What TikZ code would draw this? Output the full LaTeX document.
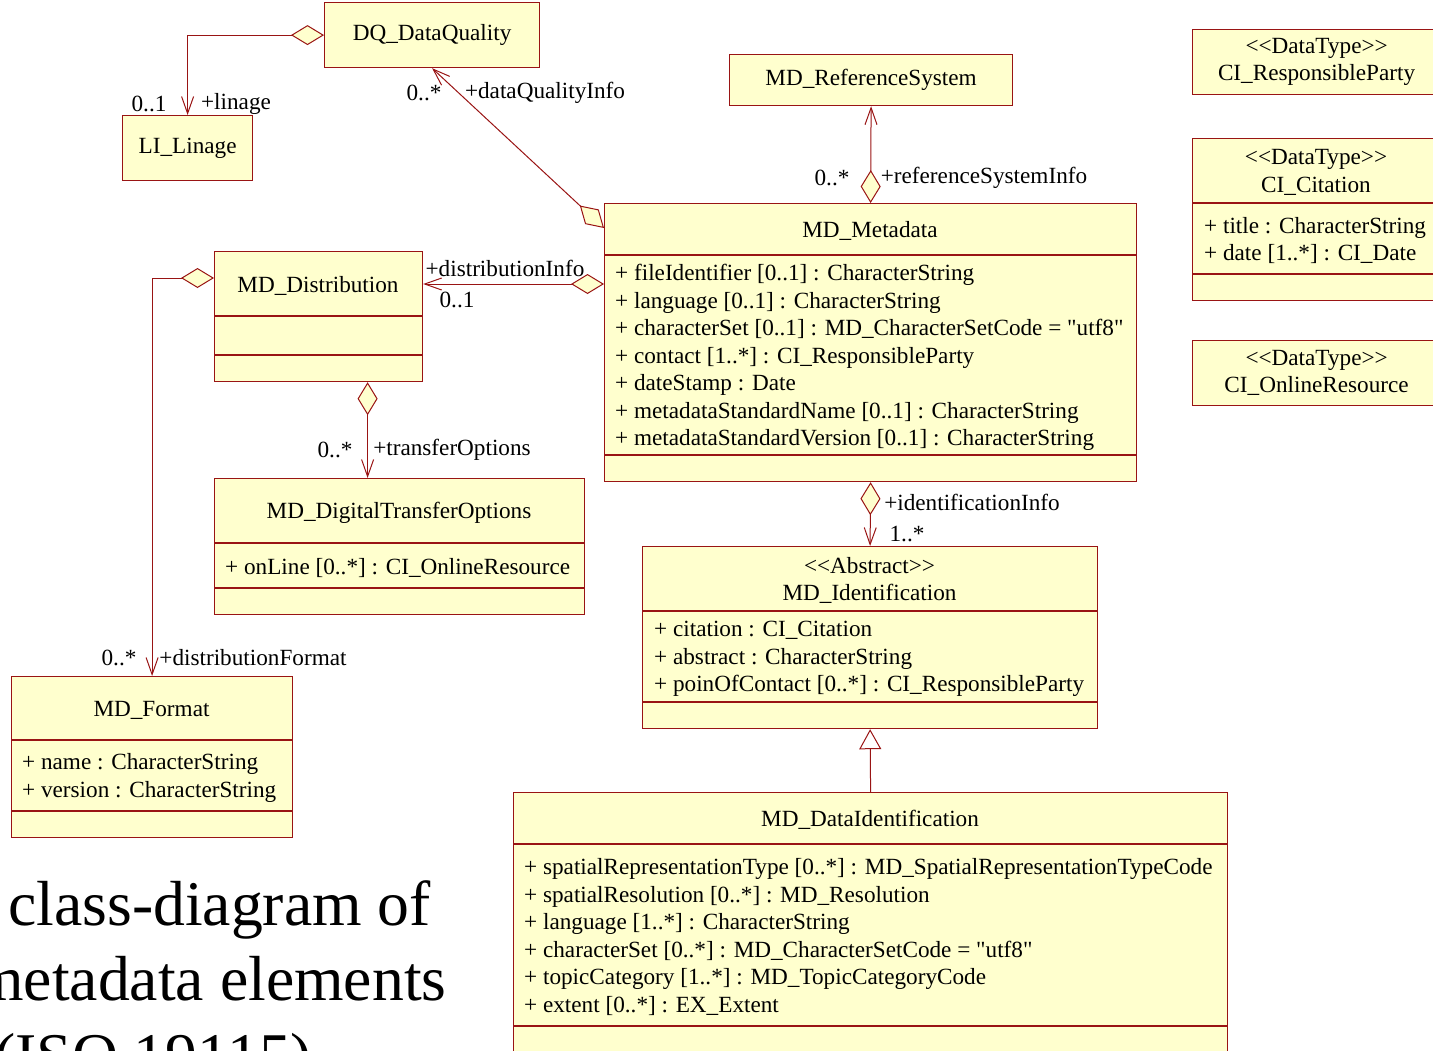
\documentclass[tikz,border=0pt]{standalone}
\usepackage{fontspec}
\setmainfont{Liberation Serif}[Ligatures=TeXOff]
\usetikzlibrary{arrows.meta,positioning}

\definecolor{umlline}{RGB}{153,20,20}
\definecolor{umlfill}{RGB}{255,255,206}

\tikzset{
  cls/.style={draw=umlline, fill=umlfill, line width=1.2pt, inner sep=0pt, anchor=north west, align=center},
  sep/.style={draw=umlline, line width=1.2pt},
  title/.style={align=center, inner sep=0pt, yshift=-2pt},
  attrs/.style={align=left, anchor=west, inner sep=0pt, yshift=-2pt},
  role/.style={inner sep=0pt, yshift=-2pt},
  assoc/.style={draw=umlline, line width=1pt,
    {Diamond[length=33pt,width=20pt,fill=umlfill,line width=1pt]}-{Straight Barb[length=17pt,width=12pt,line width=1pt]}},
  inherit/.style={draw=umlline, line width=1pt, -{Triangle[open,length=20pt,width=22pt,line width=1pt]}},
  caption/.style={anchor=base west, inner sep=0pt, font=\fontsize{63.7}{76}\selectfont}
}

\begin{document}
\begin{tikzpicture}[x=1pt, y=-1pt, font=\fontsize{23.2}{27.5}\selectfont]
  \useasboundingbox (0,0) rectangle (1433,1050);
  \clip (0,0) rectangle (1433,1050);

  % simple classes
  \node[cls, minimum width=215pt, minimum height=65pt] (dq) at (324,2) {DQ\_DataQuality};
  \node[cls, minimum width=130pt, minimum height=65pt] (li) at (122,115) {LI\_Linage};
  \node[cls, minimum width=283pt, minimum height=51pt] (rs) at (729,54) {MD\_ReferenceSystem};
  \node[cls, minimum width=248pt, minimum height=65pt] (rp) at (1192,29) {<<DataType>>\\CI\_ResponsibleParty};
  \node[cls, minimum width=248pt, minimum height=65pt] (olr) at (1192,340) {<<DataType>>\\CI\_OnlineResource};

  % CI_Citation
  \node[cls, minimum width=248pt, minimum height=162pt] (cit) at (1192,138) {};
  \node[title] (citT) at (1316,170.5) {<<DataType>>\\CI\_Citation};
  \draw[sep] (1192,203) -- (1440,203);
  \draw[sep] (1192,274) -- (1440,274);
  \node[attrs] (citA) at (1204,238.5) {+ title : CharacterString\\+ date [1..*] : CI\_Date};

  % MD_Metadata
  \node[cls, minimum width=532pt, minimum height=278pt] (md) at (604,203) {};
  \node[title] (mdT) at (870,229) {MD\_Metadata};
  \draw[sep] (604,255) -- (1136,255);
  \draw[sep] (604,455) -- (1136,455);
  \node[attrs] (mdA) at (615,355.5) {+ fileIdentifier [0..1] : CharacterString\\
    + language [0..1] : CharacterString\\
    + characterSet [0..1] : MD\_CharacterSetCode = "utf8"\\
    + contact [1..*] : CI\_ResponsibleParty\\
    + dateStamp : Date\\
    + metadataStandardName [0..1] : CharacterString\\
    + metadataStandardVersion [0..1] : CharacterString};

  % MD_Distribution
  \node[cls, minimum width=208pt, minimum height=130pt] (dist) at (214,251) {};
  \node[title] (distT) at (318,283.5) {MD\_Distribution};
  \draw[sep] (214,316) -- (422,316);
  \draw[sep] (214,355) -- (422,355);

  % MD_DigitalTransferOptions
  \node[cls, minimum width=370pt, minimum height=136pt] (dto) at (214,478) {};
  \node[title] (dtoT) at (399,510.5) {MD\_DigitalTransferOptions};
  \draw[sep] (214,543) -- (584,543);
  \draw[sep] (214,588) -- (584,588);
  \node[attrs] (dtoA) at (225,566) {+ onLine [0..*] : CI\_OnlineResource};

  % MD_Format
  \node[cls, minimum width=281pt, minimum height=161pt] (fmt) at (11,676) {};
  \node[title] (fmtT) at (151.5,708) {MD\_Format};
  \draw[sep] (11,740) -- (292,740);
  \draw[sep] (11,811) -- (292,811);
  \node[attrs] (fmtA) at (22,776) {+ name : CharacterString\\+ version : CharacterString};

  % MD_Identification
  \node[cls, minimum width=455pt, minimum height=182pt] (id) at (642,546) {};
  \node[title] (idT) at (869.5,578.5) {<<Abstract>>\\MD\_Identification};
  \draw[sep] (642,611) -- (1097,611);
  \draw[sep] (642,702) -- (1097,702);
  \node[attrs] (idA) at (654,657) {+ citation : CI\_Citation\\
    + abstract : CharacterString\\
    + poinOfContact [0..*] : CI\_ResponsibleParty};

  % MD_DataIdentification
  \node[cls, minimum width=714pt, minimum height=270pt] (did) at (513,792) {};
  \node[title] (didT) at (870,818) {MD\_DataIdentification};
  \draw[sep] (513,844) -- (1227,844);
  \draw[sep] (513,1026) -- (1227,1026);
  \node[attrs] (didA) at (524,935) {+ spatialRepresentationType [0..*] : MD\_SpatialRepresentationTypeCode\\
    + spatialResolution [0..*] : MD\_Resolution\\
    + language [1..*] : CharacterString\\
    + characterSet [0..*] : MD\_CharacterSetCode = "utf8"\\
    + topicCategory [1..*] : MD\_TopicCategoryCode\\
    + extent [0..*] : EX\_Extent};

  % associations
  \coordinate (mdDq) at ([yshift=-25pt]md.north west);
  \coordinate (mdDist) at ([yshift=-81pt]md.north west);
  \coordinate (distFmt) at ([yshift=-27pt]dist.north west);
  \coordinate (distDto) at ([xshift=49pt]dist.south);

  \draw[assoc] (dq.west) -| (li.north);
  \draw[assoc] (mdDq) -- (dq.south);
  \draw[assoc] (md.north) -- (rs.south);
  \draw[assoc] (mdDist) -- (mdDist -| dist.east);
  \draw[assoc] (distFmt) -| (fmt.north);
  \draw[assoc] (distDto) -- (distDto |- dto.north);
  \draw[assoc] (md.south) -- (id.north);
  \draw[inherit] (did.north) -- (id.south);

  % role names and multiplicities
  \node[role] (liMul) at (149,102) {0..1};
  \node[role] (liRole) at (236,102) {+linage};
  \node[role] (dqMul) at (424,91) {0..*};
  \node[role] (dqRole) at (545,91) {+dataQualityInfo};
  \node[role] (rsMul) at (832,176) {0..*};
  \node[role] (rsRole) at (984,176) {+referenceSystemInfo};
  \node[role] (distRole) at (505,266) {+distributionInfo};
  \node[role] (distMul) at (457,298) {0..1};
  \node[role] (dtoMul) at (335,448) {0..*};
  \node[role] (dtoRole) at (452,448) {+transferOptions};
  \node[role] (fmtMul) at (119,656) {0..*};
  \node[role] (fmtRole) at (253,656) {+distributionFormat};
  \node[role] (idRole) at (972,500) {+identificationInfo};
  \node[role] (idMul) at (907,532) {1..*};

  % caption
  \node[caption] (cap1) at (8,925) {class-diagram of};
  \node[caption] (cap2) at (-26,1000) {metadata elements};
  \node[caption] (cap3) at (-6,1077) {(ISO 19115)};
\end{tikzpicture}
\end{document}
